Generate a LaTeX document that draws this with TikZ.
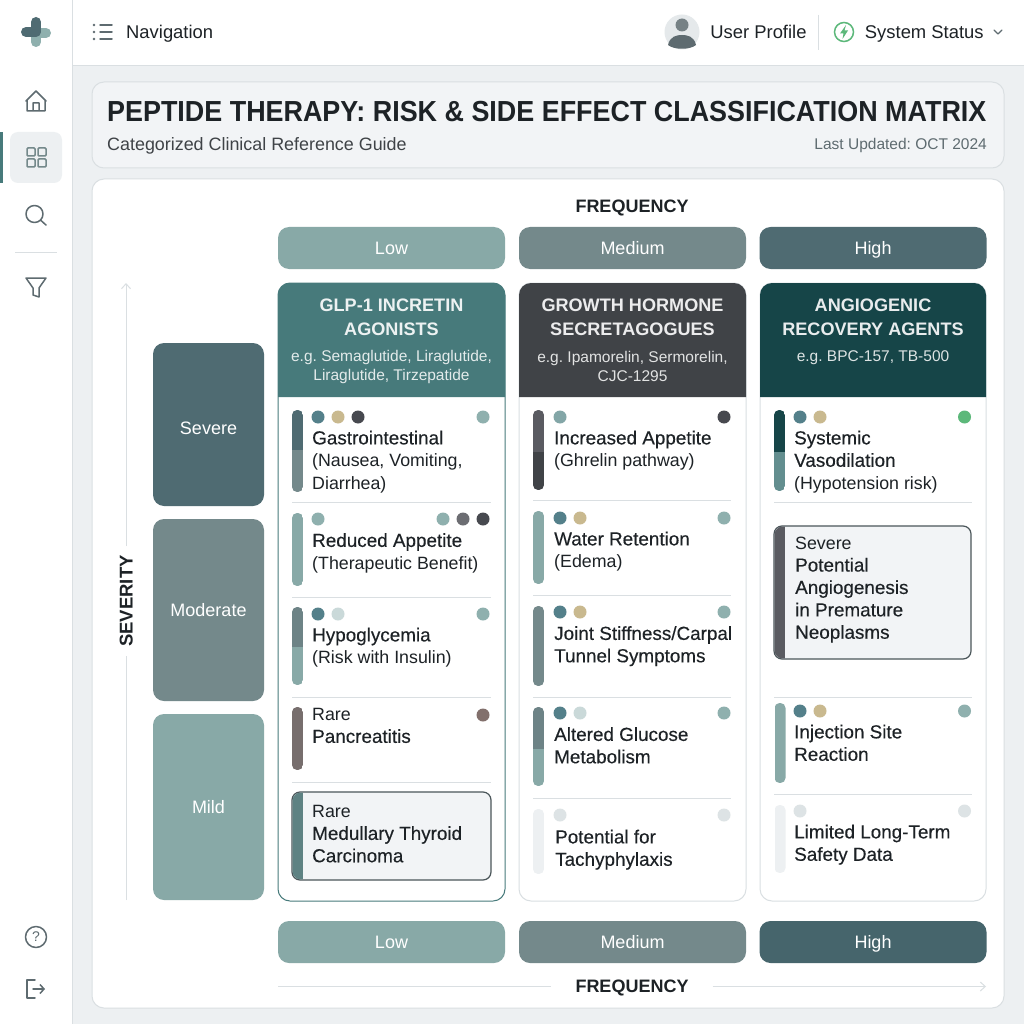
\documentclass[tikz,border=0pt]{standalone}
\usepackage{fontspec}
\setmainfont{Liberation Sans}
\newfontfamily\medfont[FakeBold=0.3,Scale=1.06]{Liberation Sans}
\newfontfamily\titlefont[FakeStretch=0.928]{Liberation Sans Bold}
\usetikzlibrary{positioning,arrows.meta}

\definecolor{page}{HTML}{EDF0F2}
\definecolor{rim}{HTML}{DADFE2}
\definecolor{ink}{HTML}{1D2226}
\definecolor{icon}{HTML}{5E6B70}
\definecolor{cLow}{HTML}{88A9A7}
\definecolor{cMed}{HTML}{74898B}
\definecolor{cHigh}{HTML}{4F6B72}
\definecolor{cGlp}{HTML}{477A7B}
\definecolor{cGrow}{HTML}{404347}
\definecolor{cAng}{HTML}{164548}
\definecolor{dTeal}{HTML}{54808A}
\definecolor{dTan}{HTML}{C9B98F}
\definecolor{dDark}{HTML}{47494F}
\definecolor{dSoft}{HTML}{8FB0AE}
\definecolor{dPale}{HTML}{CAD9D9}
\definecolor{dFaint}{HTML}{DDE3E5}
\definecolor{dRare}{HTML}{82706C}
\definecolor{dOk}{HTML}{5CB87A}

% two-part bar: x, top, split, bottom, upper colour, lower colour
\newcommand{\riskbar}[6]{
  \begin{scope}
    \clip[rounded corners=5pt] (#1,#2) rectangle (#1+11,#4);
    \fill[#5] (#1,#2) rectangle (#1+11,#3);
    \fill[#6] (#1,#3) rectangle (#1+11,#4);
  \end{scope}}

\begin{document}
\frenchspacing
\begin{tikzpicture}
[x=1pt,y=-1pt,
 panel/.style={draw=rim,fill=white,rounded corners=12pt,line width=1pt},
 sev/.style={text=white,rounded corners=11pt,minimum width=111pt,inner sep=0pt,outer sep=0pt,text height=13pt,text depth=0pt,font=\fontsize{18}{22}\selectfont},
 freq/.style={text=white,rounded corners=11pt,minimum width=227pt,minimum height=42pt,inner sep=0pt,outer sep=0pt,text height=13pt,text depth=0pt,font=\fontsize{18}{22}\selectfont},
 card/.style={draw=rim,fill=white,rounded corners=12pt,line width=1pt},
 title/.style={text=#1,align=center,inner sep=0pt,font=\fontsize{18.1}{24}\selectfont\bfseries},
 subt/.style={text=white!85!#1,align=center,inner sep=0pt,font=\fontsize{15.5}{19}\selectfont},
 item/.style={text=ink,anchor=north west,align=left,inner sep=0pt,font=\fontsize{17.8}{22.4}\selectfont},
 dot/.style={circle,minimum size=13pt,inner sep=0pt,outer sep=0pt},
 rule/.style={draw=rim,line width=0.9pt},
 note/.style={draw=#1,fill=page!70!white,rounded corners=8pt,line width=1.2pt},
 axis/.style={draw=#1,line width=1pt,-{Straight Barb[length=5pt,width=9pt]}},
 glyph/.style={draw=icon,line width=1.5pt,line cap=round,line join=round},
 label/.style={text=ink,inner sep=0pt,text height=13pt,text depth=0pt,font=\fontsize{18.4}{22}\selectfont}]
\useasboundingbox (0,0) rectangle (1024,1024);
\fill[page] (0,0) rectangle (1024,1024);

% frame
\fill[white] (0,0) rectangle (72,1024);
\fill[white] (72,0) rectangle (1024,65);
\draw[rule] (72,0) -- (72,1024);
\draw[rule] (72,65) -- (1024,65);
\fill[cGlp] (0,132) rectangle (3,183);
\fill[page] (10,132) [rounded corners=8pt] rectangle (62,183);

% logo
\draw[dSoft,line width=10pt,line cap=round,line join=round] (46,33) -- (36,33) -- (36,42);
\draw[cHigh,line width=10pt,line cap=round,line join=round] (26,32) -- (36,32) -- (36,22);

% sidebar icons
\draw[glyph] (26,101) -- (36,91) -- (46,101) (27,100) -- (27,111) -- (45,111) -- (45,100) (33,111) -- (33,103) -- (39,103) -- (39,111);
\draw[cMed,line width=1.5pt,rounded corners=1pt] (27,148) rectangle (35,156) (38,148) rectangle (46,156) (27,159) rectangle (35,167) (38,159) rectangle (46,167);
\draw[glyph] (34.5,214) circle[radius=8.5pt] (41,220.5) -- (46,225);
\draw[rule] (15,252) -- (57,252);
\draw[glyph] (26,278) -- (46,278) -- (39,288) -- (39,297) -- (33,295) -- (33,288) -- cycle;
\draw[glyph] (36,937) circle[radius=10.5pt];
\node[inner sep=0pt,text=icon,font=\fontsize{14}{14}\selectfont] (help) at (36,937) {?};
\draw[glyph] (35,980) -- (27,980) -- (27,998) -- (35,998);
\draw[glyph,-{Straight Barb[length=4pt,width=9pt]}] (33,989) -- (45,989);

% top bar
\draw[glyph] (100,25) -- (112,25) (100,32) -- (112,32) (100,39) -- (112,39);
\fill[icon] (94,25) circle[radius=1.3pt] (94,32) circle[radius=1.3pt] (94,39) circle[radius=1.3pt];
\node[label,anchor=west] (nav) at (126,32) {Navigation};
\node[circle,fill=rim!70!white,minimum size=35pt,inner sep=0pt] (user) at (682,32) {};
\fill[icon!85!white] (682,25) circle[radius=6.5pt];
\fill[icon] (668,45) .. controls (670,36) and (677,35) .. (682,35) .. controls (687,35) and (694,36) .. (696,45) .. controls (690,50) and (674,50) .. (668,45) -- cycle;
\node[label] (prof) [right=10.5pt of user] {User Profile};
\draw[rule] (818,15) -- (818,50);
\node[circle,draw=dOk,line width=1.5pt,minimum size=19pt,inner sep=0pt] (stat) at (844,32) {};
\fill[dOk] (846,25) -- (840,33.5) -- (843.5,33.5) -- (842.5,39) -- (848,30.5) -- (844.5,30.5) -- cycle;
\node[label] (sys) [right=10.5pt of stat] {System Status};
\draw[glyph,line width=1.1pt] (994,30) -- (998,34) -- (1002,30);

% title
\draw[panel,fill=page!70!white] (92,82) rectangle (1004,168);
\node[text=ink,anchor=west,inner sep=0pt,font=\fontsize{29}{32}\selectfont\titlefont] (ttl) at (107,112) {PEPTIDE THERAPY: RISK \& SIDE EFFECT CLASSIFICATION MATRIX};
\node[text=ink!85!white,anchor=west,inner sep=0pt,font=\fontsize{17.9}{22}\selectfont] (ref) at (107,145.5) {Categorized Clinical Reference Guide};
\node[text=icon,anchor=east,inner sep=0pt,font=\fontsize{15.5}{18}\selectfont] (upd) at (987,145.5) {Last Updated: OCT 2024};

% matrix
\draw[panel] (92,179) rectangle (1004,1008);
\node[label,font=\fontsize{18}{22}\selectfont\bfseries] (fTop) at (632,206) {FREQUENCY};
\node[freq,fill=cLow] (fLowT) at (391.5,248) {Low};
\node[freq,fill=cMed] (fMedT) [on grid,right=241pt of fLowT] {Medium};
\node[freq,fill=cHigh] (fHighT) [on grid,right=240.5pt of fMedT] {High};
\node[freq,fill=cLow] (fLowB) at (391.5,942) {Low};
\node[freq,fill=cMed] (fMedB) [on grid,right=241pt of fLowB] {Medium};
\node[freq,fill=cHigh!85!cAng] (fHighB) [on grid,right=240.5pt of fMedB] {High};
\node[label,font=\fontsize{18}{22}\selectfont\bfseries,inner xsep=24pt] (fBot) at (632,986) {FREQUENCY};
\coordinate (fStart) at (278,986.5);
\coordinate (fEnd) at (986,986.5);
\path[rule] (fStart) edge (fStart-|fBot.west);
\draw[axis=rim] (fEnd-|fBot.east) -- (fEnd);

\node[sev,fill=cHigh,minimum height=163pt,text height=20pt] (sSev) at (208.5,424.5) {Severe};
\node[sev,fill=cMed,minimum height=182pt] (sMod) at (208.5,610) {Moderate};
\node[sev,fill=cLow,minimum height=186pt] (sMild) at (208.5,807) {Mild};
\node[label,rotate=90,font=\fontsize{18.5}{22}\selectfont\bfseries,inner xsep=9pt] (sLab) at (126,601) {SEVERITY};
\coordinate (sStart) at (126,900);
\coordinate (sEnd) at (126,283);
\path[rule] (sStart) edge (sLab);
\draw[axis=rim] (sLab) -- (sEnd);

% column 1
\draw[card,draw=cGlp] (278,283) rectangle (505,901);
\fill[cGlp] (278,397) -- (278,295) arc[start angle=180,end angle=90,radius=12pt] -- (493,283) arc[start angle=90,end angle=0,radius=12pt] -- (505,397) -- cycle;
\node[title=white!90!cGlp] (h1) at (391.5,317) {GLP-1 INCRETIN\\AGONISTS};
\node[subt=cGlp] (e1) at (391.5,366.5) {e.g. Semaglutide, Liraglutide,\\Liraglutide, Tirzepatide};

\riskbar{292}{410}{450}{492}{cHigh}{cMed}
\node[dot,fill=dTeal] (a1) at (318,417) {};
\node[dot,fill=dTan] (a2) [on grid,right=20pt of a1] {};
\node[dot,fill=dDark] (a3) [on grid,right=20pt of a2] {};
\node[dot,fill=dSoft] (a4) at (483,417) {};
\node[item] (t1) at (312,430.5) {{\medfont Gastrointestinal}\\(Nausea, Vomiting,\\Diarrhea)};
\draw[rule] (292,502) -- (491,502);

\riskbar{292}{513}{550}{586}{cLow}{cLow}
\node[dot,fill=dSoft] (b1) at (318,519) {};
\node[dot,fill=dSoft] (b2) at (443,519) {};
\node[dot,fill=dDark!80!white] (b3) [on grid,right=20pt of b2] {};
\node[dot,fill=dDark] (b4) [on grid,right=20pt of b3] {};
\node[item] (t2) at (312,533) {{\medfont Reduced Appetite}\\(Therapeutic Benefit)};
\draw[rule] (292,597) -- (491,597);

\riskbar{292}{607}{647}{685}{cMed!80!cHigh}{cLow}
\node[dot,fill=dTeal] (c1) at (318,614) {};
\node[dot,fill=dPale] (c2) [on grid,right=20pt of c1] {};
\node[dot,fill=dSoft] (c3) at (483,614) {};
\node[item] (t3) at (312,627.5) {{\medfont Hypoglycemia}\\(Risk with Insulin)};
\draw[rule] (292,697) -- (491,697);

\riskbar{292}{707}{740}{770}{dRare!70!icon}{dRare!70!icon}
\node[dot,fill=dRare] (d1) at (483,715) {};
\node[item] (t4) at (312,708) {Rare\\{\medfont Pancreatitis}};
\draw[rule] (292,782) -- (491,782);

\draw[note=icon!80!black] (292,792) rectangle (491,880);
\begin{scope}
  \clip (292.6,792.6) [rounded corners=8pt] rectangle (491,879.4);
  \fill[cMed!50!cGlp] (292,792) rectangle (303,880);
\end{scope}
\node[item] (t5) at (312,805) {Rare\\{\medfont Medullary Thyroid}\\{\medfont Carcinoma}};

% column 2
\draw[card] (519,283) rectangle (746,901);
\fill[cGrow] (519,397) -- (519,295) arc[start angle=180,end angle=90,radius=12pt] -- (734,283) arc[start angle=90,end angle=0,radius=12pt] -- (746,397) -- cycle;
\node[title=white!90!cGrow] (h2) at (632.5,317) {GROWTH HORMONE\\SECRETAGOGUES};
\node[subt=cGrow] (e2) at (632.5,366.5) {e.g. Ipamorelin, Sermorelin,\\CJC-1295};

\riskbar{533}{410}{452}{490}{dDark!90!white}{cGrow}
\node[dot,fill=dSoft!80!dTeal] (f1) at (560,417) {};
\node[dot,fill=dDark] (f2) at (724,417) {};
\node[item] (u1) at (554,430.5) {{\medfont Increased Appetite}\\(Ghrelin pathway)};
\draw[rule] (533,500) -- (731,500);

\riskbar{533}{511}{550}{584}{cLow}{cLow}
\node[dot,fill=dTeal] (g1) at (560,518) {};
\node[dot,fill=dTan] (g2) [on grid,right=20pt of g1] {};
\node[dot,fill=dSoft] (g3) at (724,518) {};
\node[item] (u2) at (554,531.5) {{\medfont Water Retention}\\(Edema)};
\draw[rule] (533,595) -- (731,595);

\riskbar{533}{606}{650}{686}{cMed}{cMed}
\node[dot,fill=dTeal] (i1) at (560,612) {};
\node[dot,fill=dTan] (i2) [on grid,right=20pt of i1] {};
\node[dot,fill=dSoft] (i3) at (724,612) {};
\node[item] (u3) at (554,626) {{\medfont Joint Stiffness/Carpal}\\{\medfont Tunnel Symptoms}};
\draw[rule] (533,697) -- (731,697);

\riskbar{533}{707}{749}{786}{cMed!80!cHigh}{cLow}
\node[dot,fill=dTeal] (j1) at (560,713) {};
\node[dot,fill=dPale] (j2) [on grid,right=20pt of j1] {};
\node[dot,fill=dSoft] (j3) at (724,713) {};
\node[item] (u4) at (554,727) {{\medfont Altered Glucose}\\{\medfont Metabolism}};
\draw[rule] (533,798) -- (731,798);

\riskbar{533}{809}{840}{874}{page}{page}
\node[dot,fill=dFaint] (k1) at (560,815) {};
\node[dot,fill=dFaint] (k2) at (724,815) {};
\node[item] (u5) at (555,829.5) {{\medfont Potential for}\\{\medfont Tachyphylaxis}};

% column 3
\draw[card] (760,283) rectangle (986,901);
\fill[cAng] (760,397) -- (760,295) arc[start angle=180,end angle=90,radius=12pt] -- (974,283) arc[start angle=90,end angle=0,radius=12pt] -- (986,397) -- cycle;
\node[title=white!90!cAng] (h3) at (873,317) {ANGIOGENIC\\RECOVERY AGENTS};
\node[subt=cAng,anchor=north] (e3) at (873,350) {e.g. BPC-157, TB-500};

\riskbar{774}{410}{452}{491}{cAng}{cGlp!85!white}
\node[dot,fill=dTeal] (m1) at (800,417) {};
\node[dot,fill=dTan] (m2) [on grid,right=20pt of m1] {};
\node[dot,fill=dOk] (m3) at (964.5,417) {};
\node[item] (v1) at (794,430.5) {{\medfont Systemic}\\{\medfont Vasodilation}\\(Hypotension risk)};
\draw[rule] (774,502) -- (972,502);

\draw[note=icon!80!black] (774,526) rectangle (971,659);
\begin{scope}
  \clip (774.6,526.6) [rounded corners=8pt] rectangle (971,658.4);
  \fill[dDark!90!white] (774,526) rectangle (785,659);
\end{scope}
\node[item] (v2) at (795,536.5) {Severe\\{\medfont Potential}\\{\medfont Angiogenesis}\\{\medfont in Premature}\\{\medfont Neoplasms}};
\draw[rule] (774,697) -- (972,697);

\riskbar{774.5}{703}{740}{783}{cLow}{cLow}
\node[dot,fill=dTeal] (n1) at (800,711) {};
\node[dot,fill=dTan] (n2) [on grid,right=20pt of n1] {};
\node[dot,fill=dSoft] (n3) at (964.5,711) {};
\node[item] (v3) at (794,724.5) {{\medfont Injection Site}\\{\medfont Reaction}};
\draw[rule] (774,794) -- (972,794);

\riskbar{774.5}{805}{840}{873}{page}{page}
\node[dot,fill=dFaint] (o1) at (800,811) {};
\node[dot,fill=dFaint] (o2) at (964.5,811) {};
\node[item] (v4) at (794,824.5) {{\medfont Limited Long-Term}\\{\medfont Safety Data}};
\end{tikzpicture}
\end{document}
